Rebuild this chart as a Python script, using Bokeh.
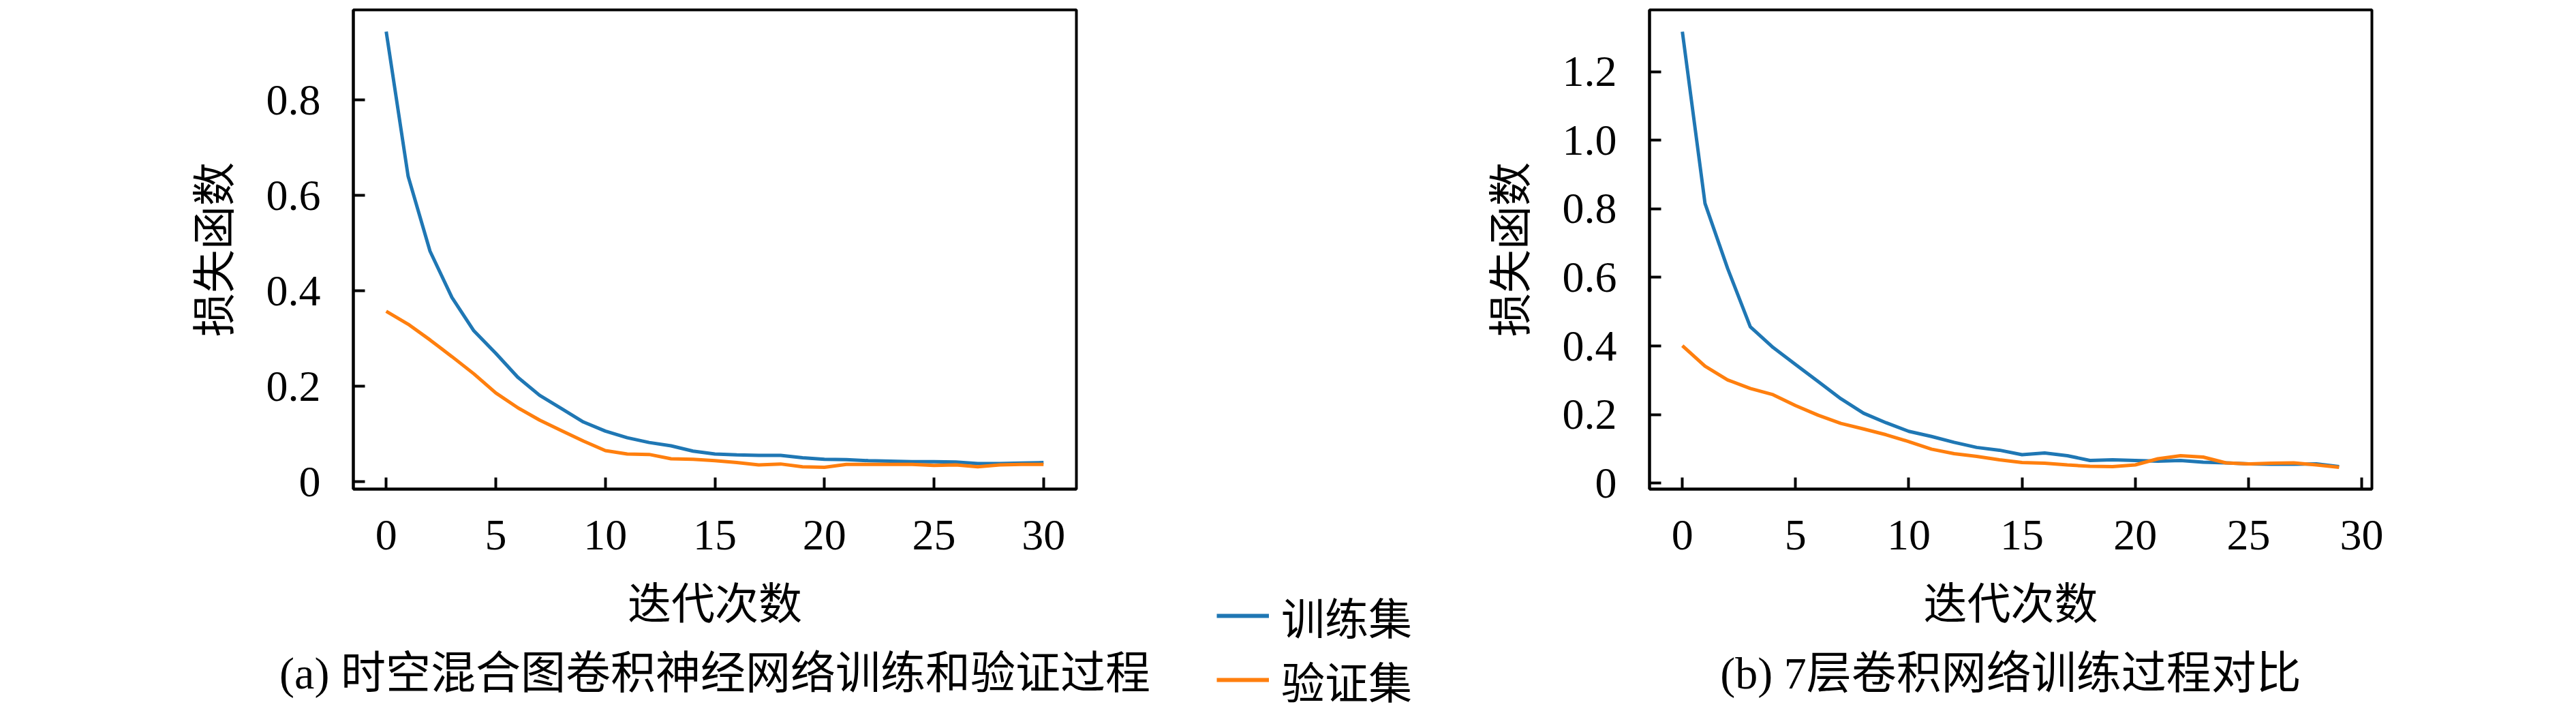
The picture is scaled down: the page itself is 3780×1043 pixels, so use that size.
from bokeh.plotting import figure
from bokeh.layouts import row, column
from bokeh.models import Range1d, FixedTicker, Legend, LegendItem, Title, Spacer
from bokeh.embed import file_html
from bokeh.resources import INLINE

# ---------------- data ----------------
epochs_a = list(range(31))
train_a = [0.943, 0.640, 0.483, 0.386, 0.316, 0.269, 0.219, 0.181, 0.153, 0.125,
           0.106, 0.092, 0.082, 0.075, 0.064, 0.058, 0.056, 0.055, 0.055, 0.050,
           0.047, 0.046, 0.044, 0.043, 0.042, 0.042, 0.041, 0.038, 0.038, 0.039, 0.040]
val_a = [0.357, 0.330, 0.297, 0.262, 0.226, 0.186, 0.155, 0.129, 0.107, 0.085,
         0.065, 0.058, 0.057, 0.048, 0.047, 0.044, 0.040, 0.035, 0.037, 0.031,
         0.030, 0.036, 0.036, 0.036, 0.036, 0.034, 0.035, 0.031, 0.035, 0.036, 0.036]

epochs_b = list(range(30))
train_b = [1.317, 0.816, 0.626, 0.456, 0.396, 0.346, 0.296, 0.246, 0.204, 0.176,
           0.151, 0.136, 0.119, 0.104, 0.096, 0.083, 0.088, 0.080, 0.066, 0.068,
           0.066, 0.064, 0.066, 0.061, 0.059, 0.056, 0.055, 0.055, 0.056, 0.048]
val_b = [0.401, 0.341, 0.301, 0.276, 0.258, 0.226, 0.198, 0.174, 0.158, 0.141,
         0.121, 0.099, 0.086, 0.078, 0.068, 0.060, 0.058, 0.053, 0.049, 0.048,
         0.053, 0.071, 0.080, 0.076, 0.059, 0.056, 0.058, 0.059, 0.053, 0.046]

x_ticks = [0, 5, 10, 15, 20, 25, 30]
x_tick_labels = ["0", "5", "10", "15", "20", "25", "30"]
y_ticks_a = [0, 0.2, 0.4, 0.6, 0.8]
y_tick_labels_a = ["0", "0.2", "0.4", "0.6", "0.8"]
y_ticks_b = [0, 0.2, 0.4, 0.6, 0.8, 1.0, 1.2]
y_tick_labels_b = ["0", "0.2", "0.4", "0.6", "0.8", "1.0", "1.2"]

x_label = "迭代次数"
y_label = "损失函数"
series_names = ["训练集", "验证集"]
caption_a = "(a) 时空混合图卷积神经网络训练和验证过程"
caption_b = "(b) 7层卷积网络训练过程对比"

BLUE = "#1f77b4"
ORANGE = "#ff7f0e"
NUM_FONT = "Liberation Serif"
CJK_FONT = "Noto Sans CJK SC"
MIX_FONT = "Liberation Serif, Noto Sans CJK SC"
FS = "64px"
CAP_FS = "66px"
H = 1043
TOP = 14
FRAME_H = 706
BOTTOM = H - TOP - FRAME_H


def padded(vals, frac=0.05):
    lo, hi = min(vals), max(vals)
    span = hi - lo
    return lo - frac * span, hi + frac * span


def make_panel(xs, tr, va, yt, ytl, caption, width, bl, br):
    x0, x1 = padded(xs)
    y0, y1 = padded(tr + va)
    p = figure(width=width, height=H, output_backend="svg", toolbar_location=None,
               x_range=Range1d(x0, x1), y_range=Range1d(y0, y1),
               min_border_left=bl, min_border_right=br, min_border_top=TOP,
               min_border_bottom=BOTTOM)
    p.background_fill_color = "white"
    p.border_fill_color = "white"
    p.xgrid.visible = False
    p.ygrid.visible = False
    p.outline_line_color = "black"
    p.outline_line_width = 4
    p.outline_line_alpha = 1.0

    r1 = p.line(xs, tr, line_color=BLUE, line_width=5)
    r2 = p.line(xs, va, line_color=ORANGE, line_width=5)

    p.xaxis.ticker = FixedTicker(ticks=x_ticks)
    p.xaxis.major_label_overrides = {t: l for t, l in zip(x_ticks, x_tick_labels)}
    p.yaxis.ticker = FixedTicker(ticks=yt)
    p.yaxis.major_label_overrides = {t: l for t, l in zip(yt, ytl)}
    for ax in (p.xaxis[0], p.yaxis[0]):
        ax.axis_line_color = "black"
        ax.axis_line_width = 4
        ax.major_tick_in = 17
        ax.major_tick_out = 0
        ax.major_tick_line_width = 4
        ax.minor_tick_line_color = None
        ax.major_label_text_font = NUM_FONT
        ax.major_label_text_font_size = FS
        ax.major_label_text_color = "black"
        ax.axis_label_text_font = CJK_FONT
        ax.axis_label_text_font_size = FS
        ax.axis_label_text_font_style = "normal"
        ax.axis_label_text_color = "black"
    p.xaxis.axis_label = x_label
    p.yaxis.axis_label = y_label
    p.xaxis.major_label_standoff = 46
    p.yaxis.major_label_standoff = 48
    p.xaxis.axis_label_standoff = 25
    p.yaxis.axis_label_standoff = 33

    p.add_layout(Title(text=caption, align="center", text_font=MIX_FONT,
                       text_font_size=CAP_FS, text_font_style="normal",
                       text_color="black", standoff=40), "below")
    return p, r1, r2


pa, ra1, ra2 = make_panel(epochs_a, train_a, val_a, y_ticks_a, y_tick_labels_a, caption_a, 1740, 518, 161)
pb, rb1, rb2 = make_panel(epochs_b, train_b, val_b, y_ticks_b, y_tick_labels_b, caption_b, 1626, 270, 296)

# legend box between the two panels (its own small frame, below a spacer)
LEG_TOP = 860
LEG_H = H - LEG_TOP
pm = figure(width=410, height=LEG_H, output_backend="svg", toolbar_location=None,
            x_range=Range1d(0, 1), y_range=Range1d(0, 1),
            x_axis_location=None, y_axis_location=None,
            min_border_left=0, min_border_right=0, min_border_top=0,
            min_border_bottom=0)
pm.outline_line_color = None
pm.xgrid.visible = False
pm.ygrid.visible = False
pm.background_fill_color = "white"
pm.border_fill_color = "white"
proxy_train = pm.line(epochs_a, train_a, line_color=BLUE, line_width=6, visible=False)
proxy_val = pm.line(epochs_a, val_a, line_color=ORANGE, line_width=6, visible=False)

# one legend per row; rows stacked from the bottom of the legend box
ROW_STEP = 94
for i, (name, rend) in enumerate(((series_names[0], proxy_train), (series_names[1], proxy_val))):
    lg = Legend(items=[LegendItem(label=name, renderers=[rend])],
                location=(45, (1 - i) * ROW_STEP),
                orientation="vertical", glyph_width=77, glyph_height=20, label_standoff=18,
                padding=0, margin=0, spacing=0, border_line_color=None,
                background_fill_alpha=0.0, inactive_fill_alpha=0.0,
                label_text_font=CJK_FONT, label_text_font_size=FS, label_text_color="black")
    pm.add_layout(lg, "center")

middle = column(Spacer(width=410, height=LEG_TOP), pm, spacing=0)
layout = row(pa, middle, pb, spacing=0)
open("out.html", "w").write(file_html(layout, INLINE))
